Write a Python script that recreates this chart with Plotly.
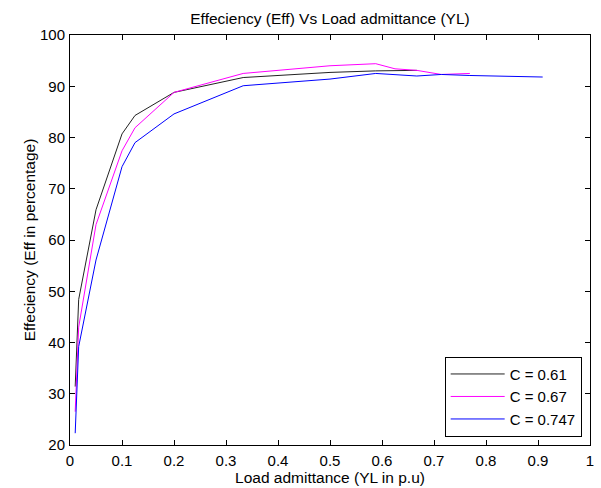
import plotly.graph_objects as go

# Data
yl_c061 = [0.01, 0.0167, 0.05, 0.1, 0.125, 0.2, 0.333, 0.5, 0.588, 0.667]
eff_c061 = [31.4, 48.4, 65.9, 80.7, 84.3, 88.8, 91.7, 92.7, 93.0, 93.1]

yl_c067 = [0.01, 0.0167, 0.05, 0.1, 0.125, 0.2, 0.333, 0.5, 0.588, 0.625, 0.667, 0.714, 0.769]
eff_c067 = [26.5, 43.0, 63.0, 77.4, 81.9, 88.8, 92.5, 94.0, 94.4, 93.4, 93.1, 92.3, 92.5]

yl_c0747 = [0.01, 0.0167, 0.05, 0.1, 0.125, 0.2, 0.333, 0.5, 0.588, 0.625, 0.667, 0.714, 0.769, 0.909]
eff_c0747 = [22.3, 39.2, 56.1, 74.3, 79.0, 84.6, 90.1, 91.4, 92.5, 92.3, 92.0, 92.3, 92.1, 91.8]

series_names = ["C = 0.61", "C = 0.67", "C = 0.747"]
series_colors = ["#222222", "#ff00ff", "#0000ff"]

x_ticks = [0, 0.1, 0.2, 0.3, 0.4, 0.5, 0.6, 0.7, 0.8, 0.9, 1]
y_ticks = [20, 30, 40, 50, 60, 70, 80, 90, 100]

title_text = "Effeciency (Eff) Vs Load admittance (YL)"
x_label = "Load admittance (YL in p.u)"
y_label = "Effeciency (Eff in percentage)"

FONT = "Liberation Sans, Arial, sans-serif"

fig = go.Figure()
for xs, ys, name, col in zip([yl_c061, yl_c067, yl_c0747],
                             [eff_c061, eff_c067, eff_c0747],
                             series_names, series_colors):
    fig.add_trace(go.Scatter(x=xs, y=ys, mode="lines", name=name,
                             line=dict(color=col, width=1)))

axis_common = dict(
    showline=True, linecolor="black", linewidth=1, mirror="ticks",
    ticks="inside", ticklen=5, tickcolor="black", tickwidth=1,
    showgrid=False, zeroline=False, automargin=False,
    tickfont=dict(family=FONT, size=15, color="black"),
)

fig.update_layout(
    width=601, height=488,
    margin=dict(l=70, r=11, t=35, b=43),
    paper_bgcolor="white", plot_bgcolor="white",
    font=dict(family=FONT, size=15, color="black"),
    title=dict(text=title_text, x=0.5, xref="paper", xanchor="center",
               y=1 - 18.3 / 488, yref="container", yanchor="middle",
               font=dict(family=FONT, size=15.5, color="black")),
    xaxis=dict(range=[0, 1], tickvals=x_ticks,
               ticktext=[("%g" % v) for v in x_ticks],
               title=dict(text=x_label, standoff=3,
                          font=dict(family=FONT, size=15.5, color="black")),
               ticklabelstandoff=2,
               **axis_common),
    yaxis=dict(range=[20, 100], tickvals=y_ticks,
               title=dict(text=y_label, standoff=0,
                          font=dict(family=FONT, size=15.5, color="black")),
               ticklabelstandoff=1,
               **axis_common),
    legend=dict(x=0.984, y=0.0202, xanchor="right", yanchor="bottom",
                xref="paper", yref="paper",
                bgcolor="white", bordercolor="black", borderwidth=1,
                font=dict(family=FONT, size=15, color="black"),
                tracegroupgap=0, itemwidth=54),
    showlegend=True,
)

fig.write_html("out.html",
               config={"displayModeBar": False},
               post_script="document.body.style.margin='0px';"
                           "document.body.style.overflow='hidden';")
